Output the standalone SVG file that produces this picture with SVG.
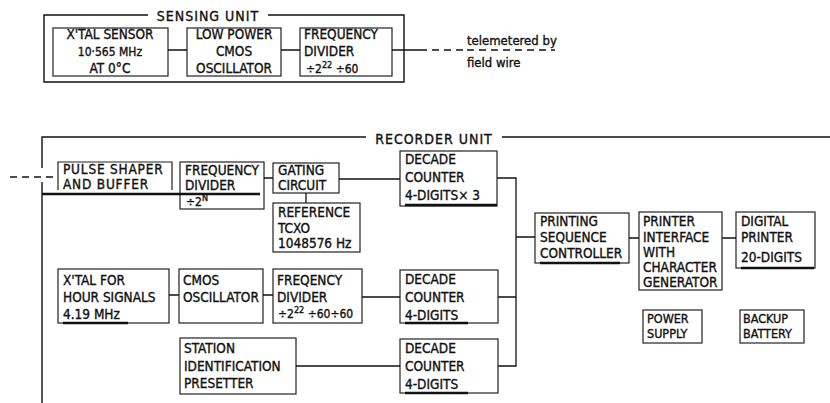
<svg xmlns="http://www.w3.org/2000/svg" width="830" height="403" viewBox="0 0 830 403">
<style>
text{font-family:"DejaVu Sans Condensed","DejaVu Sans","Liberation Sans",sans-serif;font-size:13.5px;fill:#111;stroke:#111;stroke-width:0.35}
.box{fill:none;stroke:#222;stroke-width:1.2}
.frame{fill:none;stroke:#111;stroke-width:1.4}
.wire{fill:none;stroke:#111;stroke-width:1.3}
.dash{fill:none;stroke:#111;stroke-width:1.3;stroke-dasharray:7 5}
.ul{stroke:#111;stroke-width:2.6}
.sup{font-size:9px}
.title{font-size:14px;letter-spacing:1px}
.small{font-size:12px}
.tiny{font-size:12.5px}
.tele{font-size:13px}
</style>
<rect width="830" height="403" fill="#fff"/>

<!-- frames -->
<g id="sensing-unit">
  <path class="frame" d="M148 15 H44 V82 H404 V15 H268"/>
  <text class="title" x="208" y="21" text-anchor="middle">SENSING  UNIT</text>
</g>
<g id="recorder-unit">
  <path class="frame" d="M42 168 V137 H366 M502 137 H830 M42 182 V403"/>
  <text class="title" x="434" y="144" text-anchor="middle">RECORDER  UNIT</text>
</g>

<!-- sensing unit nodes -->
<g id="xtal-sensor">
  <rect class="box" x="53" y="28" width="115" height="48"/>
  <text x="110" y="39" text-anchor="middle">X'TAL SENSOR</text>
  <text x="110" y="56" text-anchor="middle" class="small">10·565 MHz</text>
  <text x="110" y="73" text-anchor="middle">AT 0°C</text>
</g>
<g id="low-power-oscillator">
  <rect class="box" x="187" y="28" width="94" height="48"/>
  <text x="234" y="39" text-anchor="middle">LOW POWER</text>
  <text x="234" y="56" text-anchor="middle">CMOS</text>
  <text x="234" y="73" text-anchor="middle">OSCILLATOR</text>
</g>
<g id="sensing-divider">
  <rect class="box" x="300" y="28" width="92" height="48"/>
  <text x="304" y="39">FREQUENCY</text>
  <text x="304" y="56">DIVIDER</text>
  <text x="306" y="73" class="small">÷2<tspan class="sup" dy="-5">22</tspan><tspan dy="5"> ÷60</tspan></text>
</g>
<g id="telemetry-label">
  <text class="tele" x="467" y="45">telemetered by</text>
  <path class="dash" d="M467 50 H555"/>
  <text class="tele" x="467" y="67">field wire</text>
</g>

<!-- recorder nodes -->
<g id="pulse-shaper">
  <path class="box" d="M58 190 V162 H172 V190"/>
  <text x="63" y="174" letter-spacing="0.8">PULSE SHAPER</text>
  <text x="63" y="189" letter-spacing="0.8">AND BUFFER</text>
</g>
<g id="divider-2n">
  <rect class="box" x="180" y="162" width="84" height="47"/>
  <text x="185" y="175">FREQUENCY</text>
  <text x="185" y="190">DIVIDER</text>
  <text x="186" y="206" class="small">÷2<tspan class="sup" dy="-5">N</tspan></text>
</g>
<g id="gating-circuit">
  <rect class="box" x="273" y="163" width="66" height="30"/>
  <text x="278" y="175">GATING</text>
  <text x="278" y="190">CIRCUIT</text>
</g>
<g id="reference-tcxo">
  <rect class="box" x="273" y="203" width="87" height="49"/>
  <text x="278" y="217">REFERENCE</text>
  <text x="278" y="233">TCXO</text>
  <text x="278" y="248">1048576 Hz</text>
</g>
<g id="decade-counter-1">
  <rect class="box" x="400" y="151" width="97" height="55"/>
  <line class="ul" x1="405" y1="205" x2="497" y2="205"/>
  <text x="405" y="164">DECADE</text>
  <text x="405" y="182">COUNTER</text>
  <text x="405" y="200">4-DIGITS× 3</text>
</g>
<g id="xtal-hour">
  <rect class="box" x="58" y="269" width="111" height="54"/>
  <line class="ul" x1="63" y1="323" x2="128" y2="323"/>
  <text x="63" y="285">X'TAL FOR</text>
  <text x="63" y="302">HOUR SIGNALS</text>
  <text x="63" y="319">4.19 MHz</text>
</g>
<g id="cmos-oscillator">
  <rect class="box" x="179" y="269" width="84" height="54"/>
  <text x="183" y="285">CMOS</text>
  <text x="183" y="302">OSCILLATOR</text>
</g>
<g id="hour-divider">
  <rect class="box" x="273" y="269" width="89" height="54"/>
  <text x="277" y="285">FREQENCY</text>
  <text x="277" y="302">DIVIDER</text>
  <text x="278" y="318" class="small">÷2<tspan class="sup" dy="-5">22</tspan><tspan dy="5"> ÷60÷60</tspan></text>
</g>
<g id="decade-counter-2">
  <rect class="box" x="400" y="270" width="98" height="53"/>
  <line class="ul" x1="405" y1="323" x2="468" y2="323"/>
  <text x="405" y="284">DECADE</text>
  <text x="405" y="302">COUNTER</text>
  <text x="405" y="320">4-DIGITS</text>
</g>
<g id="station-id">
  <rect class="box" x="180" y="338" width="116" height="56"/>
  <text x="184" y="353">STATION</text>
  <text x="184" y="371">IDENTIFICATION</text>
  <text x="184" y="388">PRESETTER</text>
</g>
<g id="decade-counter-3">
  <rect class="box" x="400" y="339" width="98" height="54"/>
  <line class="ul" x1="405" y1="393" x2="468" y2="393"/>
  <text x="405" y="353">DECADE</text>
  <text x="405" y="371">COUNTER</text>
  <text x="405" y="389">4-DIGITS</text>
</g>
<g id="printing-sequence">
  <rect class="box" x="535" y="213" width="94" height="50"/>
  <line class="ul" x1="540" y1="263" x2="620" y2="263"/>
  <text x="540" y="226">PRINTING</text>
  <text x="540" y="242">SEQUENCE</text>
  <text x="540" y="258">CONTROLLER</text>
</g>
<g id="printer-interface">
  <rect class="box" x="639" y="212" width="83" height="78"/>
  <text x="643" y="226">PRINTER</text>
  <text x="643" y="242">INTERFACE</text>
  <text x="643" y="257">WITH</text>
  <text x="643" y="272">CHARACTER</text>
  <text x="643" y="287">GENERATOR</text>
</g>
<g id="digital-printer">
  <rect class="box" x="736" y="212" width="79" height="56"/>
  <line class="ul" x1="741" y1="268" x2="814" y2="268"/>
  <text x="741" y="226">DIGITAL</text>
  <text x="741" y="242">PRINTER</text>
  <text x="741" y="262">20-DIGITS</text>
</g>
<g id="power-supply">
  <rect class="box" x="643" y="310" width="59" height="33"/>
  <text class="tiny" x="647" y="323">POWER</text>
  <text class="tiny" x="647" y="338">SUPPLY</text>
</g>
<g id="backup-battery">
  <rect class="box" x="740" y="310" width="64" height="33"/>
  <text class="tiny" x="743" y="323">BACKUP</text>
  <text class="tiny" x="743" y="338">BATTERY</text>
</g>

<!-- connectors -->
<g id="connectors">
  <path class="wire" d="M168 50 H187 M281 50 H300 M392 50 H420"/>
  <path class="dash" d="M420 50 H465"/>
  <path class="dash" d="M10 177 H54"/>
  <line x1="42" y1="194" x2="260" y2="194" stroke="#111" stroke-width="2.6"/>
  <path class="wire" d="M264 178 H273 M306 193 V203 M339 179 H400"/>
  <path class="wire" d="M497 178 H516 V366 H498 M498 297 H516 M516 237 H535"/>
  <path class="wire" d="M629 238 H639 M722 238 H736"/>
  <path class="wire" d="M169 295 H179 M263 295 H273 M362 297 H400 M296 366 H400"/>
</g>
</svg>
